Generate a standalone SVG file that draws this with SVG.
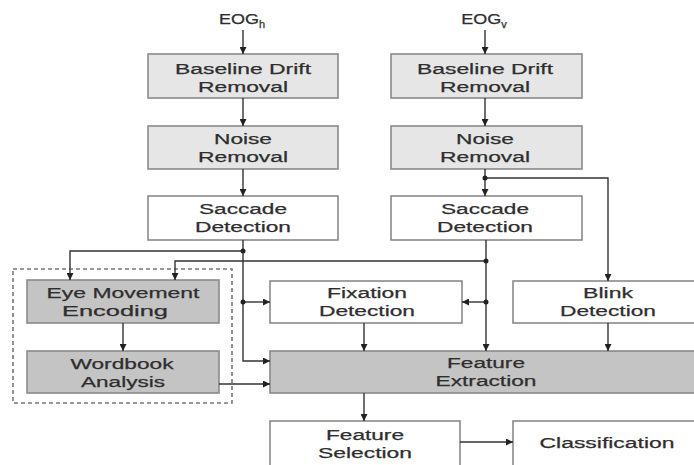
<svg xmlns="http://www.w3.org/2000/svg" width="694" height="465" viewBox="0 0 694 465">
<defs>
<style>
.lb{fill:#e6e6e6;stroke:#8a8a8a;stroke-width:1.6}
.db{fill:#c4c4c4;stroke:#8a8a8a;stroke-width:1.6}
.wb{fill:#ffffff;stroke:#8a8a8a;stroke-width:1.6}
text{font-family:"Liberation Sans",Arial,sans-serif;font-size:15.5px;fill:#2e2e2e;text-anchor:middle;stroke:#2e2e2e;stroke-width:0.25}
.c line,.c path{stroke:#333;stroke-width:1.4;fill:none}
.c .a{marker-end:url(#ah)}
.dot{fill:#222}
</style>
<marker id="ah" viewBox="0 0 10 10" refX="10" refY="5" markerWidth="7" markerHeight="7" markerUnits="userSpaceOnUse" orient="auto">
<path d="M0,0 L10,5 L0,10 z" fill="#222"/>
</marker>
</defs>
<rect width="694" height="465" fill="#fff"/>

<g id="group-box">
<rect x="13" y="269" width="219" height="134" fill="none" stroke="#777" stroke-width="1.6" stroke-dasharray="4,3"/>
</g>

<g id="eog-h"><text x="242" y="24"><tspan textLength="40" lengthAdjust="spacingAndGlyphs">EOG</tspan><tspan font-size="11" dy="4">h</tspan></text></g>
<g id="eog-v"><text x="484" y="24"><tspan textLength="40" lengthAdjust="spacingAndGlyphs">EOG</tspan><tspan font-size="11" dy="4">v</tspan></text></g>

<g id="bdr-h"><rect class="lb" x="148" y="54" width="190" height="44"/>
<text x="243" y="74" textLength="136" lengthAdjust="spacingAndGlyphs">Baseline Drift</text>
<text x="243" y="92" textLength="90" lengthAdjust="spacingAndGlyphs">Removal</text></g>
<g id="nr-h"><rect class="lb" x="148" y="126" width="190" height="43"/>
<text x="243" y="144" textLength="58" lengthAdjust="spacingAndGlyphs">Noise</text>
<text x="243" y="162" textLength="90" lengthAdjust="spacingAndGlyphs">Removal</text></g>
<g id="sd-h"><rect class="wb" x="148" y="196" width="190" height="44"/>
<text x="243" y="214" textLength="88" lengthAdjust="spacingAndGlyphs">Saccade</text>
<text x="243" y="232" textLength="96" lengthAdjust="spacingAndGlyphs">Detection</text></g>

<g id="bdr-v"><rect class="lb" x="391" y="54" width="191" height="44"/>
<text x="485" y="74" textLength="136" lengthAdjust="spacingAndGlyphs">Baseline Drift</text>
<text x="485" y="92" textLength="90" lengthAdjust="spacingAndGlyphs">Removal</text></g>
<g id="nr-v"><rect class="lb" x="391" y="126" width="191" height="43"/>
<text x="485" y="144" textLength="58" lengthAdjust="spacingAndGlyphs">Noise</text>
<text x="485" y="162" textLength="90" lengthAdjust="spacingAndGlyphs">Removal</text></g>
<g id="sd-v"><rect class="wb" x="391" y="196" width="191" height="44"/>
<text x="485" y="214" textLength="88" lengthAdjust="spacingAndGlyphs">Saccade</text>
<text x="485" y="232" textLength="96" lengthAdjust="spacingAndGlyphs">Detection</text></g>

<g id="eme"><rect class="db" x="27" y="280" width="192" height="43"/>
<text x="123" y="298" textLength="153" lengthAdjust="spacingAndGlyphs">Eye Movement</text>
<text x="115" y="316" textLength="106" lengthAdjust="spacingAndGlyphs">Encoding</text></g>
<g id="wba"><rect class="db" x="27" y="351" width="192" height="42"/>
<text x="122" y="369" textLength="103" lengthAdjust="spacingAndGlyphs">Wordbook</text>
<text x="123" y="387" textLength="84" lengthAdjust="spacingAndGlyphs">Analysis</text></g>

<g id="fix"><rect class="wb" x="270" y="281" width="192" height="42"/>
<text x="367" y="298" textLength="80" lengthAdjust="spacingAndGlyphs">Fixation</text>
<text x="367" y="316" textLength="96" lengthAdjust="spacingAndGlyphs">Detection</text></g>
<g id="blink"><rect class="wb" x="513" y="281" width="192" height="42"/>
<text x="608" y="298" textLength="50" lengthAdjust="spacingAndGlyphs">Blink</text>
<text x="608" y="316" textLength="96" lengthAdjust="spacingAndGlyphs">Detection</text></g>

<g id="fe"><rect class="db" x="270" y="351" width="436" height="42"/>
<text x="486" y="368" textLength="78" lengthAdjust="spacingAndGlyphs">Feature</text>
<text x="486" y="386" textLength="101" lengthAdjust="spacingAndGlyphs">Extraction</text></g>

<g id="fs"><rect class="wb" x="270" y="421" width="190" height="60"/>
<text x="365" y="440" textLength="78" lengthAdjust="spacingAndGlyphs">Feature</text>
<text x="365" y="458" textLength="94" lengthAdjust="spacingAndGlyphs">Selection</text></g>
<g id="cls"><rect class="wb" x="513" y="421" width="192" height="60"/>
<text x="607" y="448" textLength="135" lengthAdjust="spacingAndGlyphs">Classification</text></g>

<g id="connectors" class="c">
<line class="a" x1="243" y1="30" x2="243" y2="54"/>
<line class="a" x1="243" y1="98" x2="243" y2="126"/>
<line class="a" x1="243" y1="169" x2="243" y2="196"/>
<path class="a" d="M243,240 V361 H270"/>
<path class="a" d="M243,251 H70 V280"/>
<line class="a" x1="243" y1="302" x2="270" y2="302"/>
<line class="a" x1="123" y1="323" x2="123" y2="351"/>
<line class="a" x1="219" y1="384" x2="270" y2="384"/>
<line class="a" x1="485" y1="30" x2="485" y2="54"/>
<line class="a" x1="485" y1="98" x2="485" y2="126"/>
<line class="a" x1="485" y1="169" x2="485" y2="196"/>
<path class="a" d="M485,178 H608 V281"/>
<line class="a" x1="486" y1="240" x2="486" y2="351"/>
<path class="a" d="M486,261 H175 V280"/>
<line class="a" x1="486" y1="302" x2="462" y2="302"/>
<line class="a" x1="364" y1="323" x2="364" y2="351"/>
<line class="a" x1="608" y1="323" x2="608" y2="351"/>
<line class="a" x1="364" y1="393" x2="364" y2="421"/>
<line class="a" x1="460" y1="442" x2="513" y2="442"/>
<circle class="dot" cx="243" cy="251" r="2.5"/>
<circle class="dot" cx="243" cy="302" r="2.5"/>
<circle class="dot" cx="485" cy="178" r="2.5"/>
<circle class="dot" cx="486" cy="261" r="2.5"/>
<circle class="dot" cx="486" cy="302" r="2.5"/>
</g>
</svg>
